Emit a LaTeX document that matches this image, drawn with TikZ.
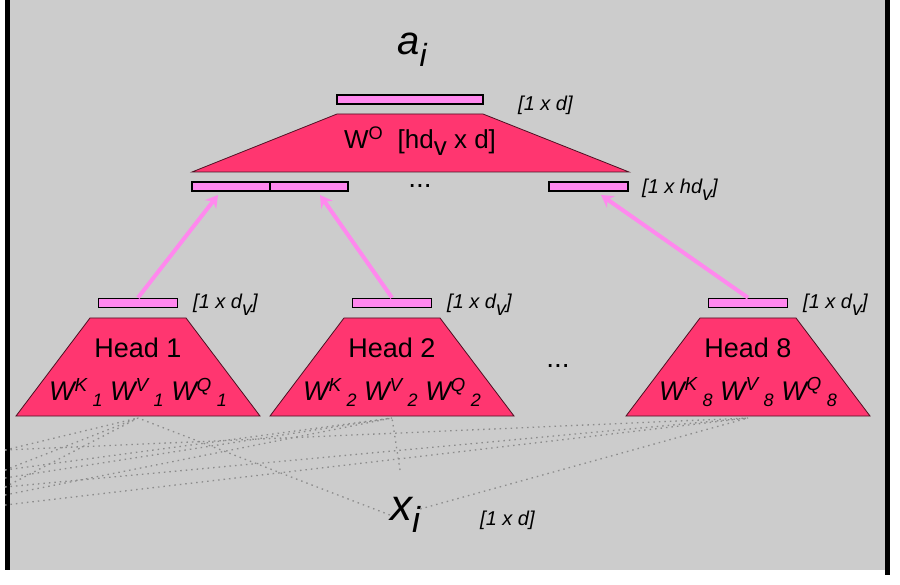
\documentclass[tikz,border=0pt]{standalone}
\usepackage{fontspec}
\setmainfont{Liberation Sans}
\usetikzlibrary{arrows.meta}
\definecolor{bg}{HTML}{CCCCCC}
\definecolor{hot}{HTML}{FF3670}
\definecolor{vio}{HTML}{FF88EE}
\begin{document}
\begin{tikzpicture}[x=1pt,y=-1pt,
  bar/.style={draw=black,line width=1.6pt,fill=vio,inner sep=0,minimum height=9pt},
  trap/.style={draw=black!70!hot,line width=0.8pt,fill=hot},
  arr/.style={draw=vio,line width=4pt,-{Stealth[length=12pt,width=14pt]}},
  dot/.style={draw=black!45,line width=1.3pt,dash pattern=on 1.5pt off 4pt},
  lbl/.style={font=\fontsize{20}{20}\selectfont\itshape,inner sep=0},
  head/.style={font=\fontsize{27}{27}\selectfont,inner sep=0}]
\useasboundingbox (0,0) rectangle (900,585);
\fill[bg] (5,0) rectangle (887,570);
\draw[line width=5pt] (7,0) -- (7,570);
\draw[line width=5pt] (887,0) -- (887,575);
% dotted lines
\coordinate (h1) at (138,418); \coordinate (h2) at (392,418); \coordinate (h8) at (748,418);
\coordinate (l1) at (5,450); \coordinate (l2) at (5,470); \coordinate (l3) at (5,478);
\coordinate (l4) at (5,487); \coordinate (l5) at (5,495); \coordinate (l6) at (5,505);
\node[font=\fontsize{44}{44}\selectfont\itshape,inner sep=0] (x) at (405,515) {x\raisebox{-12pt}{\fontsize{36}{36}\selectfont i}};
\draw[dot] (l1) -- (h1); \draw[dot] (l2) -- (h1); \draw[dot] (l4) -- (h1);
\draw[dot] (l3) -- (h2); \draw[dot] (l5) -- (h2); \draw[dot] (l2) -- (h2);
\draw[dot] (l4) -- (h8); \draw[dot] (l6) -- (h8); \draw[dot] (l1) -- (h8);
\draw[dot] (x.west) -- (h1);
\draw[dot] (400,470) -- (h2);
\draw[dot] (x.east) ++(0,-6) -- (h8);
% top
\node[font=\fontsize{40}{40}\selectfont\itshape,inner sep=0] (a) at (412,50) {a\raisebox{-12pt}{\fontsize{32}{32}\selectfont i}};
\node[bar,minimum width=146pt] (top) at (410,99.5) {};
\node[lbl,anchor=west] (d1) at (518,105) {[1 x d]};
\draw[trap] (337,114) -- (483,114) -- (629,172) -- (192,172) -- cycle;
\node[font=\fontsize{26}{26}\selectfont,inner sep=0] (wo) at (420,141) {W\textsuperscript{O}\ \ [hd\raisebox{-7pt}{v} x d]};
\node[bar,minimum width=78pt] (c1) at (231,186.5) {};
\node[bar,minimum width=78pt] (c2) at (309,186.5) {};
\node[bar,minimum width=79pt] (c8) at (588.5,186.5) {};
\node[font=\fontsize{28}{28}\selectfont,inner sep=0] (dd1) at (420,186) {...};
\node[lbl,anchor=west] (d2) at (642,190) {[1 x hd\raisebox{-7pt}{v}]};
% heads
\foreach \n/\cx/\k in {1/138/1,2/392/2,8/748/8}{
  \draw[trap] (\cx-48,318) -- (\cx+48,318) -- (\cx+122,416) -- (\cx-122,416) -- cycle;
  \node[bar,minimum width=79pt] (b\n) at (\cx,303) {};
  \node[lbl,anchor=west] (lb\n) at (\cx+55,305) {[1 x d\raisebox{-7pt}{v}]};
  \node[head] (t\n) at (\cx,348) {Head \k};
  \node[head,font=\fontsize{27}{27}\selectfont\itshape] (w\n) at (\cx,392)
    {W\textsuperscript{K}\raisebox{-6pt}{\fontsize{18}{18}\selectfont\ \k} W\textsuperscript{V}\raisebox{-6pt}{\fontsize{18}{18}\selectfont\ \k} W\textsuperscript{Q}\raisebox{-6pt}{\fontsize{18}{18}\selectfont\ \k}};
}
\node[lbl] at (0,0) {};
\draw[arr] (b1.north) -- (218,195);
\draw[arr] (b2.north) -- (320,195);
\draw[arr] (b8.north) -- (601,195);
\node[font=\fontsize{28}{28}\selectfont,inner sep=0] (dd2) at (558,366) {...};
\node[lbl,anchor=west] (d3) at (480,520) {[1 x d]};
\end{tikzpicture}
\end{document}
